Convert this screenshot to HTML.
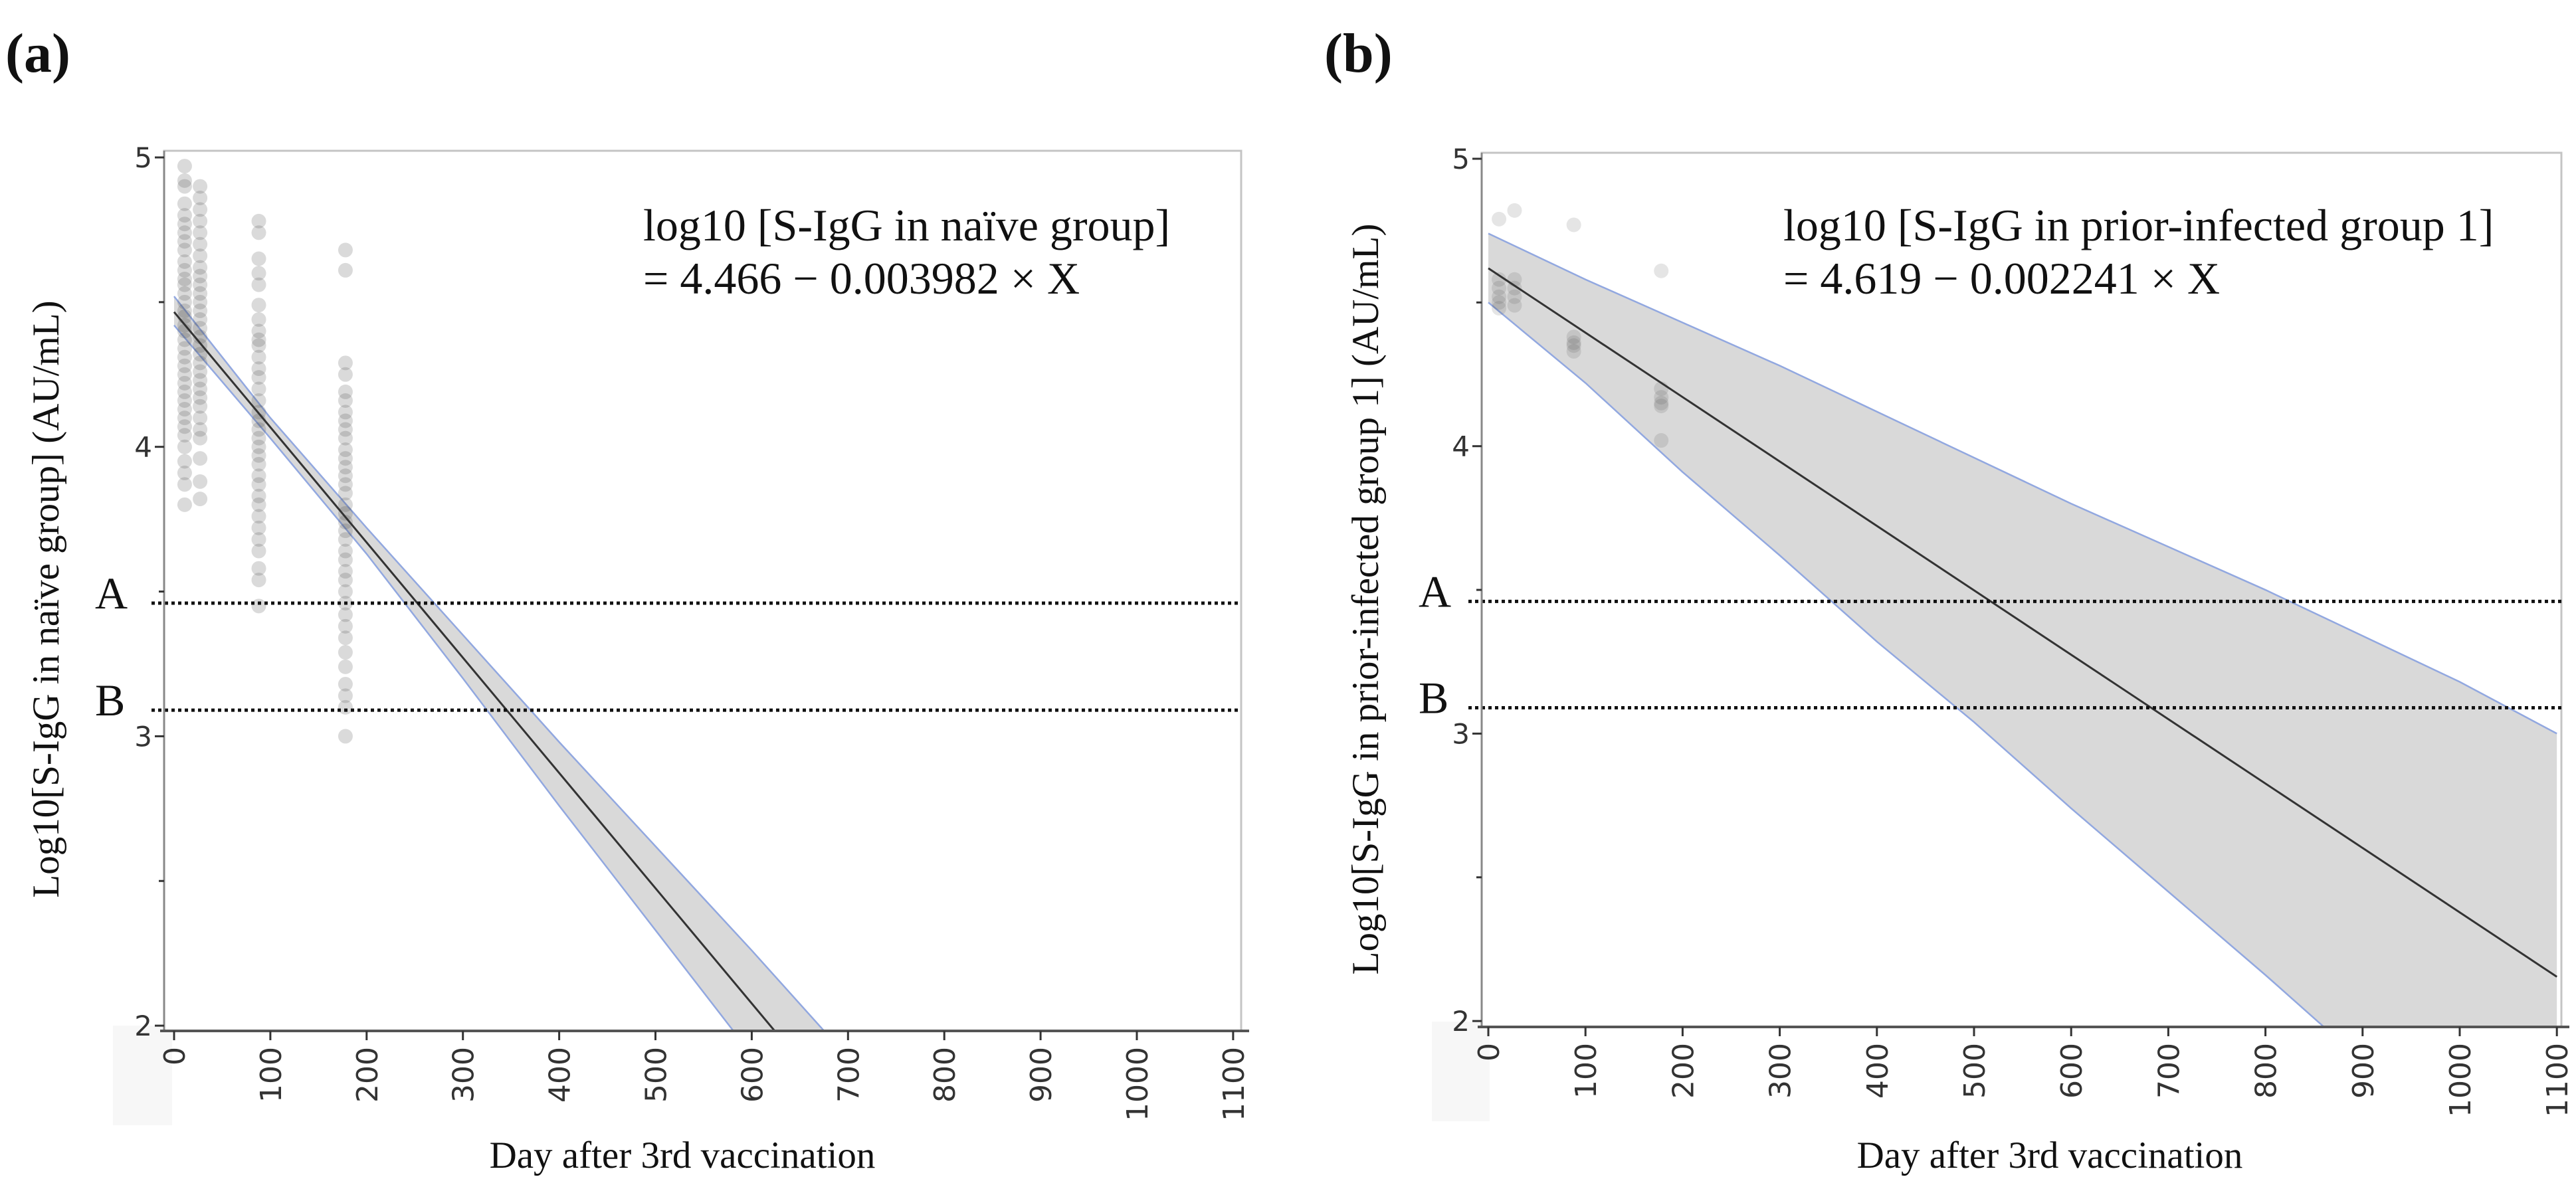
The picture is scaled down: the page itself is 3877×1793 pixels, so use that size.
<!DOCTYPE html>
<html><head><meta charset="utf-8">
<style>
html,body{margin:0;padding:0;background:#fff;}
svg{display:block;}
</style></head>
<body>
<svg id="fig" xmlns="http://www.w3.org/2000/svg" width="3877" height="1793" viewBox="0 0 3877 1793">
<rect width="3877" height="1793" fill="#fff"/>
</svg>
<script>
// ---- Panel (a) data ----
const aDays = [11, 27, 88, 178];
const aCol0 = [4.97,4.92,4.90,4.84,4.80,4.77,4.74,4.71,4.68,4.64,4.61,4.58,4.56,4.53,4.50,4.47,4.45,4.42,4.40,4.37,4.34,4.31,4.28,4.25,4.22,4.19,4.16,4.13,4.10,4.07,4.04,4.00,3.95,3.91,3.87,3.80];
const aCol1 = [4.90,4.86,4.82,4.78,4.74,4.70,4.66,4.62,4.59,4.56,4.53,4.50,4.47,4.44,4.41,4.38,4.35,4.32,4.29,4.26,4.23,4.20,4.17,4.14,4.10,4.06,4.03,3.96,3.88,3.82];
const aCol2 = [4.78,4.74,4.65,4.60,4.56,4.49,4.44,4.40,4.37,4.35,4.31,4.27,4.24,4.20,4.16,4.12,4.09,4.06,4.03,4.00,3.97,3.94,3.90,3.87,3.83,3.80,3.76,3.72,3.68,3.64,3.58,3.54,3.45];
const aCol3 = [4.68,4.61,4.29,4.25,4.19,4.16,4.12,4.09,4.06,4.03,3.99,3.96,3.93,3.90,3.87,3.84,3.80,3.77,3.74,3.71,3.68,3.64,3.61,3.57,3.54,3.50,3.46,3.42,3.38,3.34,3.29,3.24,3.18,3.14,3.10,3.00];
const aFitInt = 4.466, aFitSlope = -0.003982;
const aCiDays = [0,100,200,300,400,500,600,700];
const aCiHigh = [4.52,4.10,3.72,3.35,2.98,2.62,2.26,1.89];
const aCiLow  = [4.42,4.03,3.63,3.20,2.76,2.33,1.90,1.46];
// ---- Panel (b) data ----
const bDays = [11, 27, 88, 178];
const bCol0 = [4.79,4.58,4.55,4.52,4.50,4.48];
const bCol1 = [4.82,4.58,4.55,4.52,4.49];
const bCol2 = [4.77,4.38,4.36,4.35,4.33];
const bCol3 = [4.61,4.20,4.17,4.15,4.14,4.02];
const bFitInt = 4.619, bFitSlope = -0.002241;
const bCiDays = [0,100,200,300,400,500,600,700,800,900,1000,1100];
const bCiHigh = [4.74,4.58,4.43,4.28,4.12,3.96,3.80,3.65,3.50,3.34,3.18,3.00];
const bCiLow  = [4.50,4.22,3.91,3.62,3.32,3.04,2.74,2.45,2.16,1.86,1.58,1.30];
// thresholds
const thresholdA = 3.46, thresholdB = 3.09;
const yTicks = [5,4,3,2];
const yMinor = [4.5,3.5,2.5];
const xTicks = [0,100,200,300,400,500,600,700,800,900,1000,1100];

const NS = "http://www.w3.org/2000/svg";
const svg = document.getElementById('fig');
function el(tag, attrs, parent, text){
  const e = document.createElementNS(NS, tag);
  for (const k in attrs) e.setAttribute(k, attrs[k]);
  if (text !== undefined) e.textContent = text;
  (parent||svg).appendChild(e);
  return e;
}

function panel(cfg){
  const g = el('g', {});
  
  
  const X = d => cfg.x0 + d * cfg.xs;
  const Y = v => cfg.y5 + (5 - v) * cfg.ys;
  const left = cfg.axisX, top = cfg.top, right = cfg.right, bottom = cfg.bottom;
  const cid = 'clip-' + cfg.name;
  const defs = el('defs', {}, g);
  const cp = el('clipPath', {id: cid}, defs);
  el('rect', {x:left, y:top, width:right-left, height:bottom-top}, cp);
  const patch = el('rect', {x:cfg.patchX, y:bottom-8, width:left+12-cfg.patchX, height:150, fill:'#f7f7f7'}, g);
  
  
  const frame = el('rect', {x:left, y:top, width:right-left, height:bottom-top, fill:'#fff', stroke:'#c4c4c4', 'stroke-width':3}, g);
  
  
  const plot = el('g', {'clip-path':'url(#'+cid+')'}, g);
  let pts = [];
  for (let i=0;i<cfg.ciDays.length;i++) pts.push(X(cfg.ciDays[i])+','+Y(cfg.ciHigh[i]));
  for (let i=cfg.ciDays.length-1;i>=0;i--) pts.push(X(cfg.ciDays[i])+','+Y(cfg.ciLow[i]));
  const band = el('polygon', {points:pts.join(' '), fill:'#d9d9d9', stroke:'none'}, plot);
  
  
  const hi = el('polyline', {points:cfg.ciDays.map((d,i)=>X(d)+','+Y(cfg.ciHigh[i])).join(' '), fill:'none', stroke:'#92a8e0', 'stroke-width':2.5}, plot);
  
  
  const lo = el('polyline', {points:cfg.ciDays.map((d,i)=>X(d)+','+Y(cfg.ciLow[i])).join(' '), fill:'none', stroke:'#92a8e0', 'stroke-width':2.5}, plot);
  
  
  cfg.cols.forEach((col, ci) => {
    col.forEach(v => {
      const c = el('circle', {cx:X(cfg.days[ci]), cy:Y(v), r:11, fill:'#444', 'fill-opacity':cfg.pointOpacity}, plot);
      
      
    });
  });
  const dEnd = cfg.fitEnd;
  const fit = el('line', {x1:X(0), y1:Y(cfg.fitInt), x2:X(dEnd), y2:Y(cfg.fitInt + cfg.fitSlope*dEnd), stroke:'#333', 'stroke-width':3}, plot);
  
  
  [[thresholdA,'A'],[thresholdB,'B']].forEach(([v,lab]) => {
    const ln = el('line', {x1:cfg.dotStart, y1:Y(v), x2:right, y2:Y(v), stroke:'#111', 'stroke-width':5, 'stroke-dasharray':'5 5'}, g);
    
    
    const t = el('text', {x:cfg.labX, y:Y(v)+8, 'font-family':'Liberation Serif, serif', 'font-size':68, fill:'#111'}, g, lab);
    
    
  });
  el('line', {x1:left, y1:top, x2:left, y2:bottom, stroke:'#888', 'stroke-width':3}, g);
  const xa = el('line', {x1:left-6, y1:bottom, x2:right+12, y2:bottom, stroke:'#555', 'stroke-width':4}, g);
  
  
  yTicks.forEach(v => {
    el('line', {x1:left-14, y1:Y(v), x2:left, y2:Y(v), stroke:'#333', 'stroke-width':3}, g);
    const t = el('text', {x:left-18, y:Y(v)+15, 'text-anchor':'end', 'font-family':'DejaVu Sans, sans-serif', 'font-size':42, fill:'#333'}, g, String(v));
    
    
  });
  yMinor.forEach(v => { el('line', {x1:left-8, y1:Y(v), x2:left, y2:Y(v), stroke:'#333', 'stroke-width':3}, g); });
  xTicks.forEach(d => {
    el('line', {x1:X(d), y1:bottom, x2:X(d), y2:bottom+14, stroke:'#333', 'stroke-width':3}, g);
    const t = el('text', {x:0, y:0, 'text-anchor':'end', 'font-family':'DejaVu Sans, sans-serif', 'font-size':44, fill:'#333',
      transform:'translate('+(X(d)+16)+','+(bottom+24)+') rotate(-90)'}, g, String(d));
    
    
  });
  const yt = el('text', {x:0, y:0, 'text-anchor':'middle', 'font-family':'Liberation Serif, serif', 'font-size':57, fill:'#111',
    transform:'translate('+cfg.yTitleX+','+cfg.yTitleY+') rotate(-90)'}, g, cfg.yTitle);
  
  
  const xt = el('text', {x:cfg.xTitleX, y:1758, 'text-anchor':'middle', 'font-family':'Liberation Serif, serif', 'font-size':57, fill:'#111'}, g, 'Day after 3rd vaccination');
  
  
  const e1 = el('text', {x:cfg.eqX, y:362, 'font-family':'Liberation Serif, serif', 'font-size':68, fill:'#111'}, g, cfg.eq1);
  
  
  const e2 = el('text', {x:cfg.eqX, y:442, 'font-family':'Liberation Serif, serif', 'font-size':68, fill:'#111'}, g, cfg.eq2);
  
  
  const pl = el('text', {x:cfg.plX, y:108, 'font-family':'Liberation Serif, serif', 'font-size':84, 'font-weight':'bold', fill:'#111'}, g, cfg.panelLabel);
  
  
}

panel({name:'panel-a', x0:262, xs:1.449, y5:237, ys:435.7, axisX:247, top:227, right:1868, bottom:1552,
  patchX:170, days:aDays, cols:[aCol0,aCol1,aCol2,aCol3], pointOpacity:0.2,
  fitInt:aFitInt, fitSlope:aFitSlope, fitEnd:700, ciDays:aCiDays, ciHigh:aCiHigh, ciLow:aCiLow,
  dotStart:228, labX:143, yTitleX:88, yTitleY:902, yTitle:'Log10[S-IgG  in naïve group] (AU/mL)',
  xTitleX:1027, eqX:968, eq1:'log10 [S-IgG in naïve group]', eq2:'= 4.466 − 0.003982 × X', plX:8, panelLabel:'(a)'});

panel({name:'panel-b', x0:2240, xs:1.462, y5:239, ys:432.7, axisX:2230, top:230, right:3855, bottom:1546,
  patchX:2155, days:bDays, cols:[bCol0,bCol1,bCol2,bCol3], pointOpacity:0.14,
  fitInt:bFitInt, fitSlope:bFitSlope, fitEnd:1100, ciDays:bCiDays, ciHigh:bCiHigh, ciLow:bCiLow,
  dotStart:2210, labX:2135, yTitleX:2074, yTitleY:902, yTitle:'Log10[S-IgG  in prior-infected  group 1] (AU/mL)',
  xTitleX:3085, eqX:2684, eq1:'log10 [S-IgG in prior-infected  group 1]', eq2:'= 4.619 − 0.002241 × X', plX:1993, panelLabel:'(b)'});
</script>
</body></html>
